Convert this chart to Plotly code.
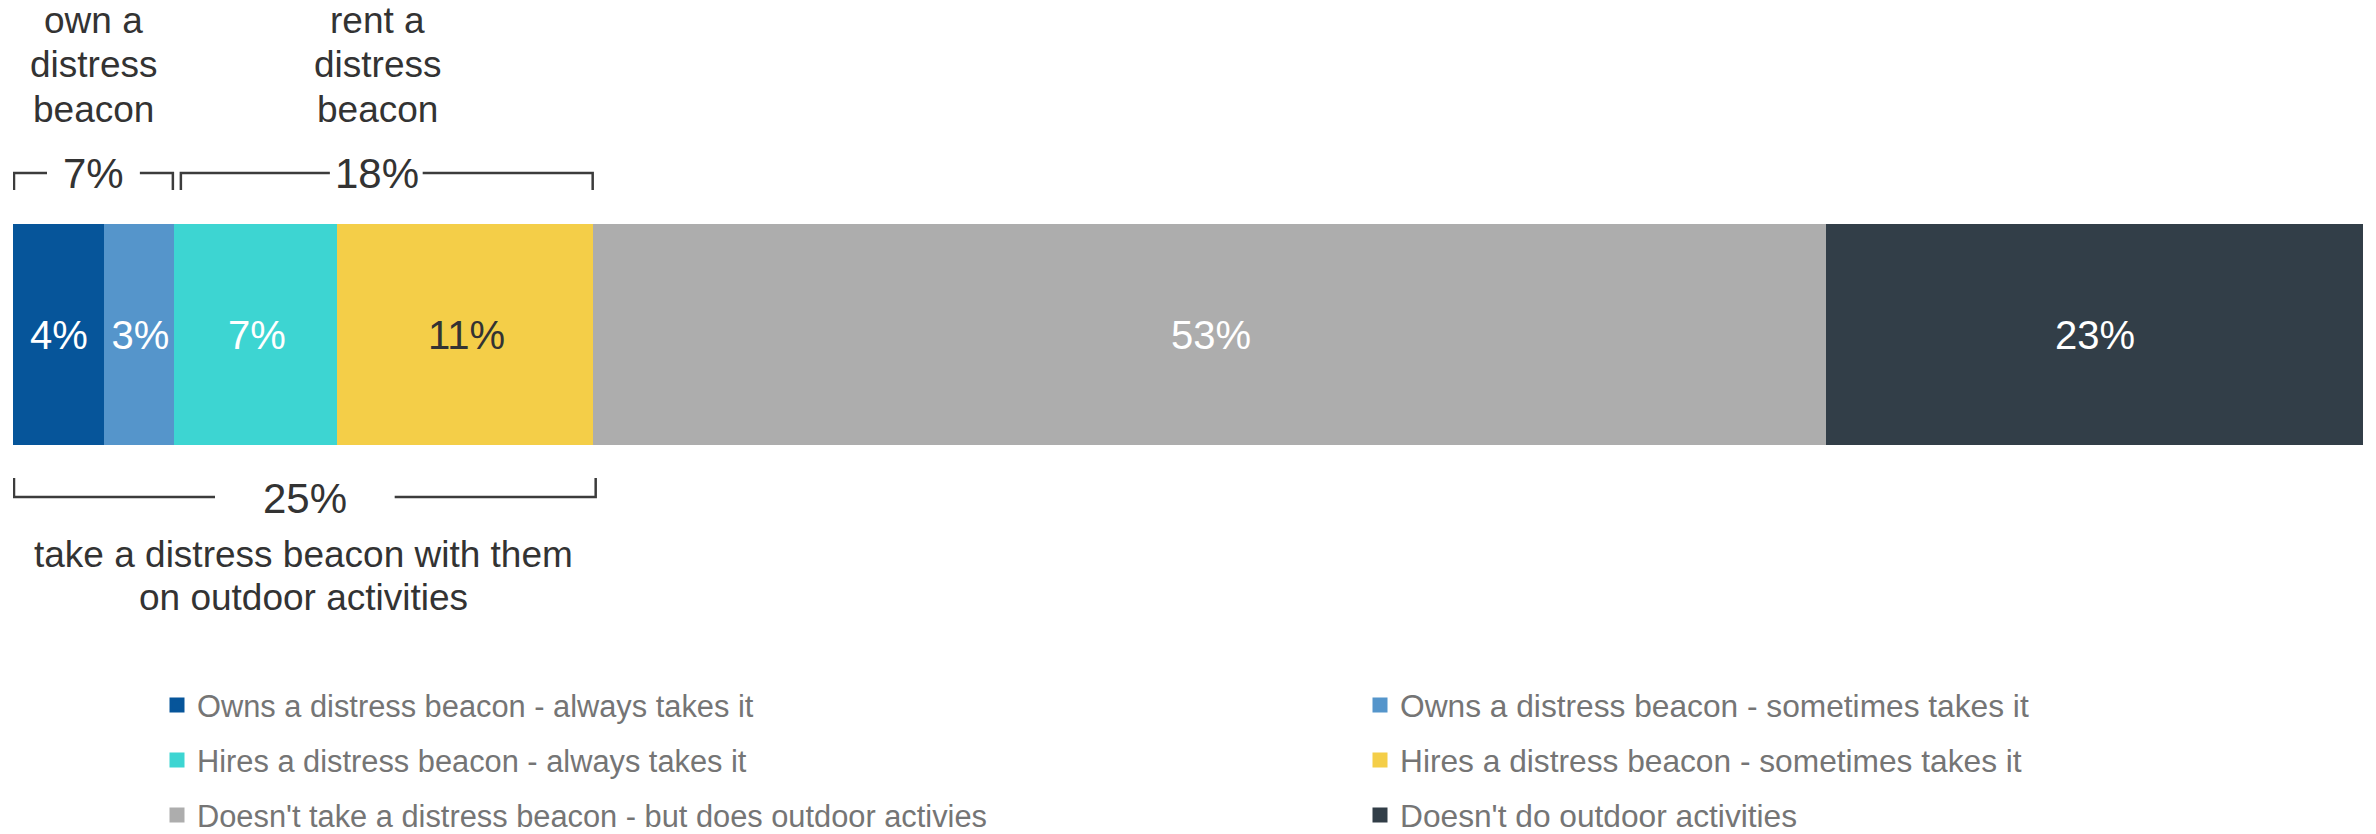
import plotly.graph_objects as go

# --- data -------------------------------------------------------------
categories = [
    "Owns a distress beacon - always takes it",
    "Owns a distress beacon - sometimes takes it",
    "Hires a distress beacon - always takes it",
    "Hires a distress beacon - sometimes takes it",
    "Doesn't take a distress beacon - but does outdoor activies",
    "Doesn't do outdoor activities",
]
shares = [4, 3, 7, 11, 53, 23]

own_label = ["own a", "distress", "beacon"]
rent_label = ["rent a", "distress", "beacon"]
take_label = ["take a distress beacon with them", "on outdoor activities"]

# --- styles -----------------------------------------------------------
colors = ["#06559A", "#5595CB", "#3DD5D2", "#F4CE48", "#ADADAD", "#323E48"]
label_colors = ["#FFFFFF", "#FFFFFF", "#FFFFFF", "#333333", "#FFFFFF", "#FFFFFF"]
FONT = "Liberation Sans, Arial, Helvetica, sans-serif"
INK = "#333333"
LINE = "#3C3C3C"
W, H = 2376, 834
BAR_Y, BAR_H = 335, 218

bounds = [0]
for v in shares:
    bounds.append(bounds[-1] + v)
own_total = shares[0] + shares[1]
rent_total = shares[2] + shares[3]
take_total = own_total + rent_total

fig = go.Figure()
for i, (name, v) in enumerate(zip(categories, shares)):
    fig.add_trace(go.Bar(
        x=[v], y=[BAR_Y], width=[BAR_H], orientation="h",
        name=name, legendgroup=name,
        legend="legend" if i % 2 == 0 else "legend2",
        marker=dict(color=colors[i], line=dict(color=colors[i], width=3)),
        text=[f"{v}%"], textposition="inside", insidetextanchor="middle",
        textangle=0,
        insidetextfont=dict(size=40, color=label_colors[i], family=FONT),
        hoverinfo="skip",
    ))


def note(x, y, s, size, xshift=0):
    return dict(x=x, y=y, xref="x", yref="y", text=s, showarrow=False,
                xanchor="center", yanchor="middle", xshift=xshift,
                font=dict(size=size, color=INK, family=FONT))


def bracket(anchor, path):
    return dict(type="path", xref="x", yref="y", xsizemode="pixel",
                xanchor=anchor, path=path, line=dict(color=LINE, width=2.5))


annotations = []
own_mid = (bounds[0] + bounds[2]) / 2
rent_mid = (bounds[2] + bounds[4]) / 2
take_mid = (bounds[0] + bounds[4]) / 2

for k, line in enumerate(own_label):
    annotations.append(note(own_mid, 20 + 44.5 * k, line, 37, xshift=-1))
for k, line in enumerate(rent_label):
    annotations.append(note(rent_mid, 20 + 44.5 * k, line, 37, xshift=-8))
annotations.append(note(own_mid, 173, f"{own_total}%", 42, xshift=-1))
annotations.append(note(rent_mid, 173, f"{rent_total}%", 42, xshift=-8))
annotations.append(note(take_mid, 498, f"{take_total}%", 42, xshift=1))
for k, line in enumerate(take_label):
    annotations.append(note(take_mid, 554 + 43 * k, line, 37, xshift=0))

shapes = [
    # own bracket
    bracket(bounds[0], "M1,190 L1,173 L34,173"),
    bracket(bounds[2], "M-36,173 L-3,173 L-3,190"),
    # rent bracket
    bracket(bounds[2], "M5,190 L5,173 L154,173"),
    bracket(bounds[4], "M-172,173 L-2,173 L-2,190"),
    # take bracket
    bracket(bounds[0], "M1,478 L1,497 L202,497"),
    bracket(bounds[4], "M-200,497 L1,497 L1,478"),
]

# legend rows: first row centred at y=705 px, rows 55 px apart
ROW0, ROW_STEP = 705, 55


def legend_box(left_px, size):
    item_h = size * 1.3 + 3
    top = ROW0 - 5 - item_h / 2
    return dict(
        orientation="v", xref="paper", yref="paper",
        xanchor="left", yanchor="top",
        x=(left_px - 13) / (W - 26), y=1 - top / H,
        traceorder="grouped", tracegroupgap=ROW_STEP - item_h,
        font=dict(size=size, color="#757575", family=FONT),
        bgcolor="rgba(0,0,0,0)",
    )


fig.update_layout(
    width=W, height=H,
    margin=dict(l=13, r=13, t=0, b=0, pad=0, autoexpand=False),
    paper_bgcolor="white", plot_bgcolor="white",
    barmode="stack", bargap=0,
    showlegend=True,
    xaxis=dict(range=[0, bounds[-1]], visible=False, fixedrange=True),
    yaxis=dict(range=[H, 0], visible=False, fixedrange=True),
    legend=legend_box(157, 30.8),
    legend2=legend_box(1360, 31.7),
    annotations=annotations,
    shapes=shapes,
    font=dict(family=FONT),
)

fig.write_html("out.html")
